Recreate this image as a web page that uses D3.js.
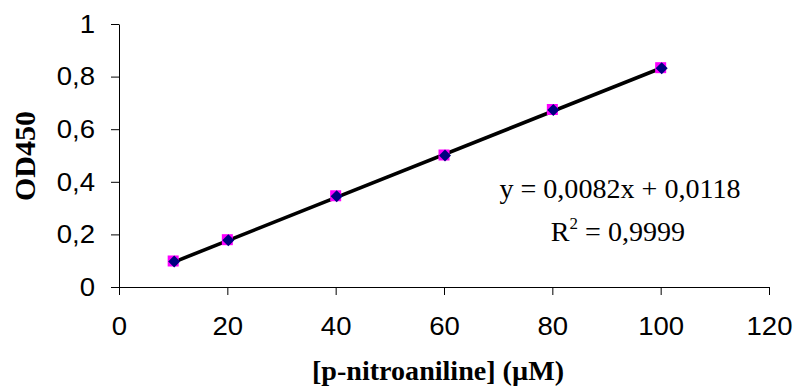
<!DOCTYPE html>
<html>
<head>
<meta charset="utf-8">
<script src="https://cdn.jsdelivr.net/npm/d3@7"></script>
<style>
  html, body { margin: 0; padding: 0; background: #fff; }
  svg { display: block; }
</style>
</head>
<body>
<svg id="chart" width="796" height="389"></svg>
<script>
// Standard curve: p-nitroaniline concentration vs. absorbance at 450 nm
const concentrations = [10, 20, 40, 60, 80, 100];
const od450 = [0.097, 0.178, 0.345, 0.500, 0.673, 0.832];
const fitSlope = 0.0082;
const fitIntercept = 0.0118;
const xTicks = [0, 20, 40, 60, 80, 100, 120];
const yTicks = [0, 0.2, 0.4, 0.6, 0.8, 1];
const equationText = "y = 0,0082x + 0,0118";
const r2Value = "0,9999";

const svg = d3.select("#chart");
const margin = { left: 119, right: 27, top: 24, bottom: 102 };
const W = 796, H = 389;
const stretch = 1.06; // slight horizontal widening of the lettering

const x = d3.scaleLinear().domain([0, 120]).range([margin.left, W - margin.right]);
const y = d3.scaleLinear().domain([0, 1]).range([H - margin.bottom, margin.top]);

const comma = d => String(d).replace(".", ",");
const sans = "'Liberation Sans', Arial, sans-serif";
const serif = "'Liberation Serif', 'Times New Roman', serif";

// Axes
const xAxis = svg.append("g")
  .attr("transform", `translate(0,${y(0)})`)
  .call(d3.axisBottom(x).tickValues(xTicks).tickSize(8).tickSizeOuter(0).tickFormat(comma).tickPadding(22));
const yAxis = svg.append("g")
  .attr("transform", `translate(${x(0)},0)`)
  .call(d3.axisLeft(y).tickValues(yTicks).tickSize(8).tickSizeOuter(0).tickFormat(comma));

[xAxis, yAxis].forEach(g => {
  g.selectAll("path.domain").attr("stroke", "#000").attr("stroke-width", 1);
  g.selectAll(".tick line").attr("stroke", "#000").attr("stroke-width", 1);
  g.selectAll(".tick text")
    .attr("fill", "#000")
    .attr("transform", `scale(${stretch},1)`)
    .style("font-family", sans)
    .style("font-size", "26px");
});
yAxis.selectAll(".tick text").attr("x", -24 / stretch);

// Linear trendline across the measured range
const xMin = d3.min(concentrations), xMax = d3.max(concentrations);
svg.append("line")
  .attr("x1", x(xMin)).attr("y1", y(fitSlope * xMin + fitIntercept))
  .attr("x2", x(xMax)).attr("y2", y(fitSlope * xMax + fitIntercept))
  .attr("stroke", "#000").attr("stroke-width", 3.6);

// Data markers: magenta square with navy diamond on top
const pts = concentrations.map((c, i) => ({ c, v: od450[i] }));
svg.append("g").selectAll("rect").data(pts).join("rect")
  .attr("x", d => x(d.c) - 5.5).attr("y", d => y(d.v) - 6)
  .attr("width", 11).attr("height", 11)
  .attr("fill", "#ff00ff");
svg.append("g").selectAll("path").data(pts).join("path")
  .attr("transform", d => `translate(${x(d.c) + 1},${y(d.v)})`)
  .attr("d", "M0,-6L6,0L0,6L-6,0Z")
  .attr("fill", "#000080");

// Regression equation
svg.append("text")
  .attr("transform", `translate(620,198) scale(${stretch},1)`)
  .attr("text-anchor", "middle")
  .style("font-family", serif).style("font-size", "26.5px")
  .text(equationText);
const r2 = svg.append("text")
  .attr("transform", `translate(618,241) scale(${stretch},1)`)
  .attr("text-anchor", "middle")
  .style("font-family", serif).style("font-size", "26.5px");
r2.append("tspan").text("R");
r2.append("tspan").attr("dy", -12).style("font-size", "16px").text("2");
r2.append("tspan").attr("dy", 12).text(" = " + r2Value);

// Axis titles
svg.append("text")
  .attr("transform", `translate(${x(60) - 6},380) scale(${stretch},1)`)
  .attr("text-anchor", "middle")
  .style("font-family", serif).style("font-size", "26.5px").style("font-weight", "bold")
  .text("[p-nitroaniline] (µM)");
svg.append("text")
  .attr("transform", `translate(35,156) rotate(-90)`)
  .attr("text-anchor", "middle")
  .style("font-family", serif).style("font-size", "30px").style("font-weight", "bold")
  .text("OD450");
</script>
</body>
</html>
